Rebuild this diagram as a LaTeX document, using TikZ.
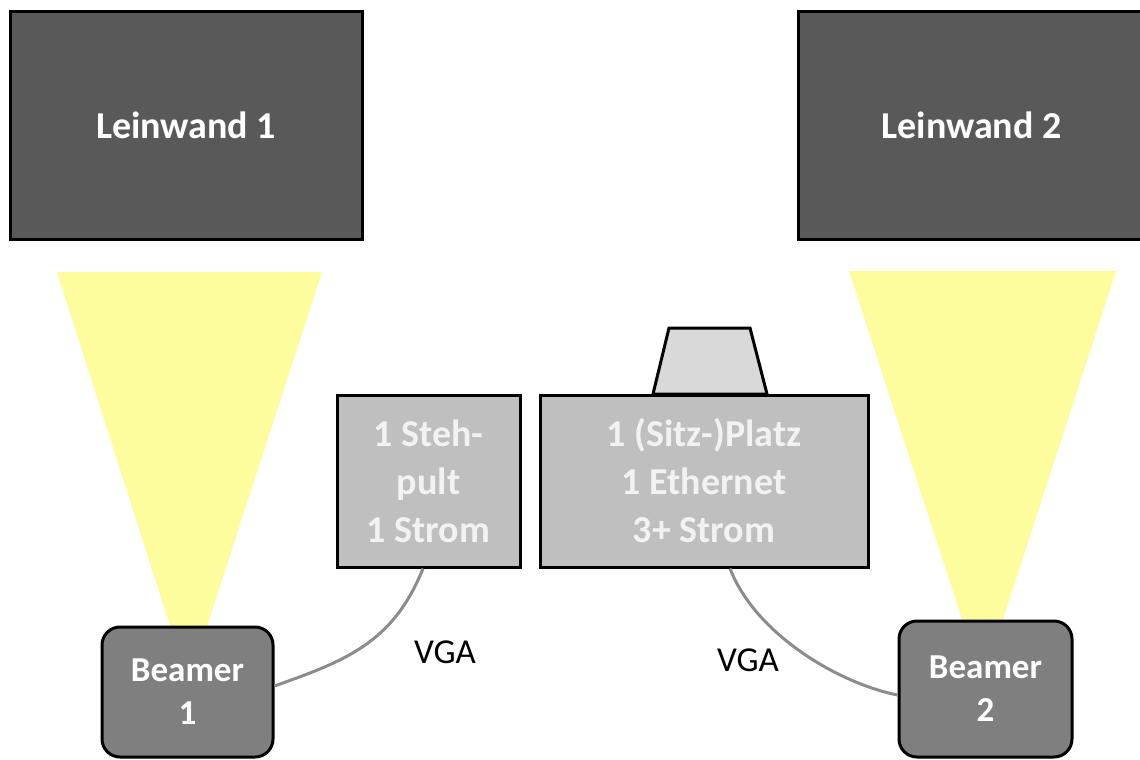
\documentclass[tikz,border=0pt]{standalone}
\usepackage{fontspec}
\setmainfont{Carlito}
\definecolor{screen}{HTML}{595959}
\definecolor{beamerc}{HTML}{7F7F7F}
\definecolor{desk}{HTML}{BFBFBF}
\definecolor{monitor}{HTML}{D9D9D9}
\definecolor{beam}{HTML}{FDFD9D}
\definecolor{desktext}{HTML}{F2F2F2}
\definecolor{cable}{HTML}{8C8C8C}
\tikzset{
  screenbox/.style={draw=black, line width=3pt, fill=screen, text=white, inner sep=0pt,
    font=\fontsize{38}{46}\selectfont\bfseries},
  deskbox/.style={draw=black, line width=3pt, fill=desk, text=desktext, inner sep=0pt, align=center,
    font=\fontsize{38}{48}\selectfont\bfseries},
  projbox/.style={draw=black, line width=3pt, fill=beamerc, text=white, inner sep=0pt, align=center,
    rounded corners=18pt, font=\fontsize{35}{43}\selectfont\bfseries},
  cablestyle/.style={draw=cable, line width=3pt},
  beamfill/.style={fill=beam, draw=none},
  cablelabel/.style={text=black, font=\fontsize{35}{42}\selectfont, inner sep=0pt}
}
\begin{document}
\begin{tikzpicture}[x=1pt,y=-1pt]
\clip (0,0) rectangle (1140,760);
\fill[white] (0,0) rectangle (1140,760);
% screens
\node[screenbox, minimum width=352pt, minimum height=227pt] (l1) at (186,125.5) {Leinwand 1};
\node[screenbox, minimum width=347pt, minimum height=227pt] (l2) at (971.5,125.5) {Leinwand 2};
% light beams
\path[beamfill] (57,272) -- (322,272) -- (196,660) -- (181,660) -- cycle;
\path[beamfill] (849,271) -- (1116,271) -- (993,650) -- (972,650) -- cycle;
% monitor on desk
\draw[line width=3pt, fill=monitor, line join=miter] (653,394) -- (669,328) -- (750,328) -- (767,394) -- cycle;
% desks
\node[deskbox, minimum width=183pt, minimum height=172pt] (st) at (428.5,481) {1 Steh-\\pult\\1 Strom};
\node[deskbox, minimum width=328pt, minimum height=172pt] (sp) at (704,481) {1 (Sitz-)Platz\\1 Ethernet\\3+ Strom};
% projectors
\node[projbox, minimum width=171pt, minimum height=130pt] (b1) at (187.5,692) {Beamer\\1};
\node[projbox, minimum width=173pt, minimum height=136pt] (b2) at (985.5,689) {Beamer\\2};
% cables
\draw[cablestyle] ([xshift=-5.5pt]st.south) .. controls +(-30,75) and +(70,-25) .. ([yshift=6pt]b1.east);
\draw[cablestyle] ([xshift=26pt]sp.south) .. controls +(25,65) and +(-60,-12) .. ([yshift=-6pt]b2.west);
% labels
\node[cablelabel] (vga1) at (445,652) {VGA};
\node[cablelabel] (vga2) at (748,660) {VGA};
\end{tikzpicture}
\end{document}
